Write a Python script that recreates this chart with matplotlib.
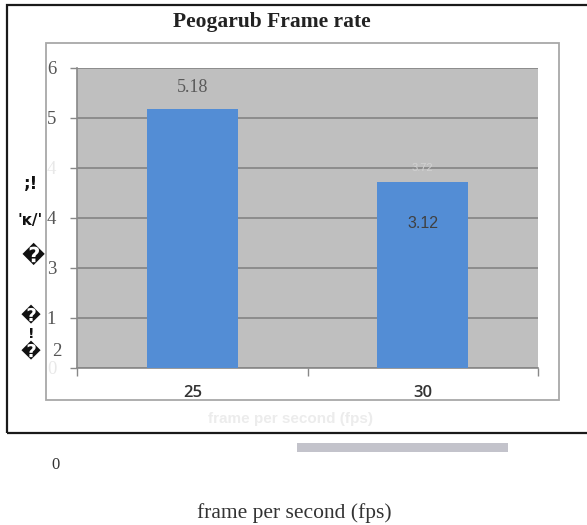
import matplotlib
matplotlib.use("Agg")
import matplotlib.pyplot as plt
from matplotlib.patches import Rectangle

# ---- data ----
categories = ["25", "30"]
values = [5.18, 3.72]
value_labels = ["5.18", "3.12"]
ytick_values = [0, 1, 2, 3, 4, 5, 6]
ytick_labels = ["0", "1", "3", "4", "4", "5", "6"]
ytick_faded = [True, False, False, False, True, False, False]
title = "Peogarub Frame rate"
faded_xlabel = "frame per second (fps)"
outer_xlabel = "frame per second (fps)"

W, H = 587, 525
fig = plt.figure(figsize=(W / 100, H / 100), dpi=100)
fig.patch.set_facecolor("white")

def fx(x):
    return x / W

def fy(y):
    return 1 - y / H

# outer black frame
fig.add_artist(Rectangle((fx(7), fy(433)), fx(600) - fx(7), fy(5) - fy(433),
                         transform=fig.transFigure, fill=False, edgecolor="#1a1a1a", lw=1.6))
# inner chart border
fig.add_artist(Rectangle((fx(46), fy(400)), fx(559) - fx(46), fy(43) - fy(400),
                         transform=fig.transFigure, fill=False, edgecolor="#a8a8a8", lw=1.3))
# gray strip below frame
fig.add_artist(Rectangle((fx(297), fy(452)), fx(508) - fx(297), fy(443) - fy(452),
                         transform=fig.transFigure, facecolor="#c3c3cb", edgecolor="none"))

ax = fig.add_axes([fx(77), fy(368), fx(538) - fx(77), fy(68) - fy(368)])
ax.set_facecolor("#bfbfbf")
x = list(range(len(categories)))
bars = ax.bar(x, values, width=0.395, color="#538dd5", zorder=3)
ax.set_xlim(-0.5, len(categories) - 0.5)
ax.set_ylim(0, 6)

ax.set_yticks(ytick_values)
ax.set_yticklabels(ytick_labels, family="Liberation Serif", fontsize=13.5)
for lab, faded in zip(ax.get_yticklabels(), ytick_faded):
    lab.set_color("#e8e8e8" if faded else "#555555")
ax.tick_params(axis="y", length=5, width=1, color="#888888", pad=10)
ax.yaxis.grid(True, color="#888888", lw=1.3, zorder=1)
ax.set_axisbelow(True)

ax.set_xticks(x)
ax.set_xticklabels(categories, family="Open Sans", fontweight="semibold", fontsize=12, color="#333333")
ax.set_xticks([-0.5, 0.5, 1.5], minor=True)
ax.tick_params(axis="x", which="major", length=0, pad=12)
ax.tick_params(axis="x", which="minor", length=6, width=1, color="#888888")

for s in ["top", "right"]:
    ax.spines[s].set_visible(False)
ax.spines["left"].set_color("#888888")
ax.spines["bottom"].set_color("#888888")
ax.spines["left"].set_linewidth(1.2)
ax.spines["bottom"].set_linewidth(1.2)

# value labels
ax.text(x[0], values[0] + 0.42, value_labels[0], ha="center", va="center",
        family="Liberation Serif", fontsize=13, color="#595959", zorder=4)
ax.text(x[1], values[1] - 0.84, value_labels[1], ha="center", va="center",
        family="Liberation Sans", fontsize=11.5, color="#404040", zorder=4)
ax.text(x[1], values[1] + 0.28, "%.2f" % values[1], ha="center", va="center",
        family="Liberation Sans", fontsize=8, color="#d2d2d2", zorder=4)

# stray tick label "2" (aligned with the other tick labels)
fig.text(fx(57), fy(351), "2", ha="center", va="center",
         family="Liberation Serif", fontsize=13.5, color="#555555")

# title
fig.text(fx(272), fy(22), title, ha="center", va="center", family="Liberation Serif",
         fontweight="bold", fontsize=15.5, color="#222222")

# faded axis title inside frame
fig.text(fx(291), fy(419), faded_xlabel, ha="center", va="center", family="Liberation Sans",
         fontweight="bold", fontsize=11, color="#ececec")

# garbled glyphs at left
for (gx, gy, s, fs) in [(31, 184, ";!", 12), (30, 221, "'ĸ/'", 11), (33, 255, "\ufffd", 15),
                        (31, 316, "\ufffd", 13), (31, 334, "!", 10), (31, 352, "\ufffd", 13)]:
    fig.text(fx(gx), fy(gy), s, ha="center", va="center", family="DejaVu Sans",
             fontweight="bold", fontsize=fs, color="#111111")

# outer text
fig.text(fx(55), fy(465), "0", ha="center", va="center", family="Liberation Serif",
         fontsize=12, color="#333333")
fig.text(fx(294), fy(513), outer_xlabel, ha="center", va="center", family="Liberation Serif",
         fontsize=15.5, color="#333333")

fig.savefig("out.png", dpi=100)
